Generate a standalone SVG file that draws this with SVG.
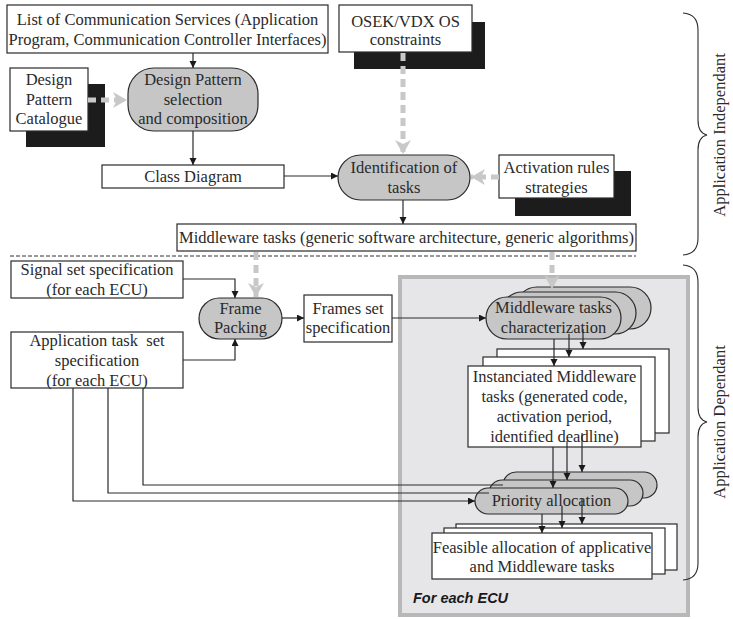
<svg xmlns="http://www.w3.org/2000/svg" width="733" height="619" viewBox="0 0 733 619">
<style>
.box{fill:#fff;stroke:#2a2a2a;stroke-width:1.2}
.pill{fill:#c6c6c6;stroke:#2a2a2a;stroke-width:1.2}
.shadow{fill:#1c1c1c}
.t{font-family:"Liberation Serif","Times New Roman",serif;font-size:16.5px;fill:#2a2a2a;text-anchor:middle}
.ln{fill:none;stroke:#2a2a2a;stroke-width:1.2}
.gd{fill:none;stroke:#c8c8c8;stroke-width:5;stroke-dasharray:8,5}
.brace{fill:none;stroke:#2a2a2a;stroke-width:1.1}
</style>
<defs>
<marker id="ah" markerUnits="userSpaceOnUse" markerWidth="8" markerHeight="8" refX="7" refY="3.5" orient="auto">
<path d="M0,0 L7,3.5 L0,7 z" fill="#1a1a1a"/>
</marker>
<marker id="gh" markerUnits="userSpaceOnUse" markerWidth="16" markerHeight="18" refX="14" refY="8" orient="auto">
<path d="M0,0 L14,8 L0,16 L4,8 z" fill="#c8c8c8"/>
</marker>
</defs>

<g id="ecu-container">
<rect x="400" y="277" width="288" height="338" fill="#e6e6e8" stroke="#b8b8b8" stroke-width="4"/>
<text x="413" y="603" font-family="'Liberation Sans',Arial,sans-serif" font-size="14.5" font-weight="bold" font-style="italic" fill="#1a1a1a">For each ECU</text>
</g>

<g id="separator">
<line x1="10" y1="256" x2="636" y2="256" stroke="#333" stroke-width="1" stroke-dasharray="4,2"/>
</g>

<g id="comm-services">
<rect class="box" x="7" y="5" width="321" height="48"/>
<text class="t" x="167.5" y="25">List of Communication Services (Application</text>
<text class="t" x="167.5" y="45">Program, Communication Controller Interfaces)</text>
</g>

<g id="osek">
<rect class="shadow" x="354" y="22" width="131" height="47"/>
<rect class="box" x="339" y="5" width="133" height="47"/>
<text class="t" x="405.5" y="27">OSEK/VDX OS</text>
<text class="t" x="405.5" y="45">constraints</text>
</g>

<g id="catalogue">
<rect class="shadow" x="26" y="84" width="79" height="63"/>
<rect class="box" x="10" y="68" width="78" height="63"/>
<text class="t" x="49" y="85">Design</text>
<text class="t" x="49" y="105">Pattern</text>
<text class="t" x="49" y="124">Catalogue</text>
</g>

<g id="dp-selection">
<rect class="pill" x="128" y="68" width="130" height="63" rx="26" ry="26"/>
<text class="t" x="193" y="85">Design Pattern</text>
<text class="t" x="193" y="105">selection</text>
<text class="t" x="193" y="124">and composition</text>
</g>

<g id="class-diagram">
<rect class="box" x="102" y="165" width="182" height="23"/>
<text class="t" x="193" y="182">Class Diagram</text>
</g>

<g id="identification">
<rect class="pill" x="338" y="155" width="132" height="45" rx="22.5" ry="22.5"/>
<text class="t" x="404" y="173">Identification of</text>
<text class="t" x="404" y="193">tasks</text>
</g>

<g id="activation">
<rect class="shadow" x="515" y="171" width="116" height="45"/>
<rect class="box" x="499" y="155" width="115" height="43"/>
<text class="t" x="556.5" y="173">Activation rules</text>
<text class="t" x="556.5" y="193">strategies</text>
</g>

<g id="middleware-tasks">
<rect class="box" x="177" y="224" width="459" height="27"/>
<text class="t" x="406.5" y="243">Middleware tasks (generic software architecture, generic algorithms)</text>
</g>

<g id="signal-set">
<rect class="box" x="11" y="261" width="172" height="37"/>
<text class="t" x="97" y="275">Signal set specification</text>
<text class="t" x="97" y="295">(for each ECU)</text>
</g>

<g id="app-task-set">
<rect class="box" x="11" y="332" width="172" height="56"/>
<text class="t" x="97" y="346" xml:space="preserve">Application task  set</text>
<text class="t" x="97" y="366">specification</text>
<text class="t" x="97" y="386">(for each ECU)</text>
</g>

<g id="frame-packing">
<rect class="pill" x="199" y="298" width="83" height="41" rx="20.5" ry="20.5"/>
<text class="t" x="240.5" y="314">Frame</text>
<text class="t" x="240.5" y="333">Packing</text>
</g>

<g id="frames-set">
<rect class="box" x="304" y="295" width="88" height="47"/>
<text class="t" x="348" y="314">Frames set</text>
<text class="t" x="348" y="333">specification</text>
</g>

<g id="mw-characterization">
<rect class="pill" x="516" y="287" width="135" height="42" rx="21" ry="21"/>
<rect class="pill" x="501" y="292" width="135" height="42" rx="21" ry="21"/>
<rect class="pill" x="486" y="297" width="135" height="42" rx="21" ry="21"/>
<text class="t" x="553.5" y="313">Middleware tasks</text>
<text class="t" x="553.5" y="333">characterization</text>
</g>

<g id="instanciated">
<rect class="box" x="497" y="349" width="172" height="84"/>
<rect class="box" x="483" y="357" width="172" height="84"/>
<rect class="box" x="468" y="366" width="173" height="81"/>
<text class="t" x="554.5" y="382">Instanciated Middleware</text>
<text class="t" x="554.5" y="402">tasks (generated code,</text>
<text class="t" x="554.5" y="422">activation period,</text>
<text class="t" x="554.5" y="442">identified deadline)</text>
</g>

<g id="priority">
<rect class="pill" x="503" y="472" width="154" height="26" rx="13" ry="13"/>
<rect class="pill" x="489" y="480" width="154" height="26" rx="13" ry="13"/>
<rect class="pill" x="475" y="488" width="153" height="26" rx="13" ry="13"/>
<text class="t" x="551.5" y="506">Priority allocation</text>
</g>

<g id="feasible">
<rect class="box" x="456" y="524" width="221" height="46"/>
<rect class="box" x="444" y="528" width="221" height="46"/>
<rect class="box" x="432" y="533" width="220" height="46"/>
<text class="t" x="542" y="553">Feasible allocation of applicative</text>
<text class="t" x="542" y="572">and Middleware tasks</text>
</g>

<g id="connectors">
<line class="ln" x1="193" y1="53" x2="193" y2="68" marker-end="url(#ah)"/>
<line class="ln" x1="193" y1="131" x2="193" y2="165" marker-end="url(#ah)"/>
<line class="ln" x1="284" y1="176" x2="338" y2="176" marker-end="url(#ah)"/>
<line class="ln" x1="403" y1="200" x2="403" y2="224" marker-end="url(#ah)"/>
<polyline class="ln" points="183,279 235,279 235,298" marker-end="url(#ah)"/>
<polyline class="ln" points="183,360 235,360 235,339" marker-end="url(#ah)"/>
<line class="ln" x1="282" y1="318" x2="304" y2="318" marker-end="url(#ah)"/>
<line class="ln" x1="392" y1="318" x2="486" y2="318" marker-end="url(#ah)"/>
<line class="ln" x1="554" y1="339" x2="554" y2="366" marker-end="url(#ah)"/>
<line class="ln" x1="569" y1="334" x2="569" y2="357" marker-end="url(#ah)"/>
<line class="ln" x1="583" y1="329" x2="583" y2="349" marker-end="url(#ah)"/>
<line class="ln" x1="553" y1="447" x2="553" y2="488" marker-end="url(#ah)"/>
<line class="ln" x1="567" y1="441" x2="567" y2="480" marker-end="url(#ah)"/>
<line class="ln" x1="582" y1="433" x2="582" y2="472" marker-end="url(#ah)"/>
<polyline class="ln" points="143,388 143,485 503,485"/>
<polyline class="ln" points="108,388 108,493 489,493"/>
<polyline class="ln" points="73,388 73,501 475,501" marker-end="url(#ah)"/>
<line class="ln" x1="542" y1="514" x2="542" y2="533" marker-end="url(#ah)"/>
<line class="ln" x1="562" y1="506" x2="562" y2="528" marker-end="url(#ah)"/>
<line class="ln" x1="582" y1="498" x2="582" y2="524" marker-end="url(#ah)"/>
<line class="gd" x1="88" y1="100" x2="127" y2="100" marker-end="url(#gh)"/>
<line class="gd" x1="403" y1="53" x2="403" y2="154" marker-end="url(#gh)"/>
<line class="gd" x1="499" y1="177" x2="471" y2="177" marker-end="url(#gh)"/>
<line class="gd" x1="256" y1="252" x2="256" y2="297" marker-end="url(#gh)"/>
<line class="gd" x1="552" y1="252" x2="552" y2="289" marker-end="url(#gh)"/>
</g>

<g id="brace-independant">
<path class="brace" d="M683,13 Q698,14 698,30 L698,120 Q698,133 707,135 Q698,137 698,150 L698,238 Q698,254 683,255"/>
<text class="t" transform="translate(725,135) rotate(-90)">Application Independant</text>
</g>

<g id="brace-dependant">
<path class="brace" d="M683,265 Q698,266 698,282 L698,407 Q698,420 707,422 Q698,424 698,437 L698,563 Q698,579 683,580"/>
<text class="t" transform="translate(725,422) rotate(-90)">Application Dependant</text>
</g>
</svg>
